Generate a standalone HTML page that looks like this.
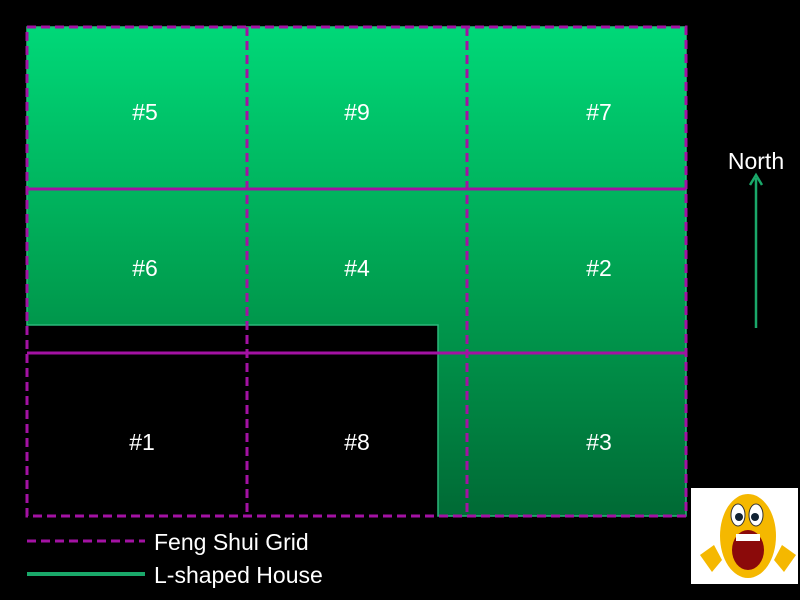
<!DOCTYPE html>
<html><head><meta charset="utf-8"><style>
html,body{margin:0;padding:0;background:#000;width:800px;height:600px;overflow:hidden}
text{font-family:"Liberation Sans",sans-serif;fill:#fff}
</style></head><body>
<svg width="800" height="600" viewBox="0 0 800 600" xmlns="http://www.w3.org/2000/svg">
<defs>
<linearGradient id="g" x1="0" y1="0" x2="0" y2="1" gradientUnits="userSpaceOnUse" x1v="0">
</linearGradient>
<linearGradient id="gr" gradientUnits="userSpaceOnUse" x1="0" y1="27" x2="0" y2="516">
<stop offset="0" stop-color="#00d878"/><stop offset="0.5" stop-color="#00a352"/><stop offset="1" stop-color="#006a35"/>
</linearGradient>
</defs>
<rect width="800" height="600" fill="#000"/>
<path d="M27 27 H686 V516 H438 V325 H27 Z" fill="url(#gr)" stroke="#2bb87a" stroke-width="1.5"/>
<g stroke="#a312a3" stroke-width="3" fill="none">
<rect x="27" y="27" width="659" height="489" stroke-dasharray="9,5"/>
<line x1="247" y1="27" x2="247" y2="516" stroke-dasharray="9,5"/>
<line x1="467" y1="27" x2="467" y2="516" stroke-dasharray="9,5"/>
<line x1="27" y1="189" x2="686" y2="189"/>
<line x1="27" y1="353" x2="686" y2="353"/>
</g>
<g font-size="23" text-anchor="middle">
<text x="145" y="120">#5</text><text x="357" y="120">#9</text><text x="599" y="120">#7</text>
<text x="145" y="276">#6</text><text x="357" y="276">#4</text><text x="599" y="276">#2</text>
<text x="142" y="450">#1</text><text x="357" y="450">#8</text><text x="599" y="450">#3</text>
</g>
<text x="756" y="169" font-size="23" text-anchor="middle">North</text>
<line x1="756" y1="328" x2="756" y2="178" stroke="#1aa86a" stroke-width="2.5"/>
<path d="M750 185 L756 175 L762 185" fill="none" stroke="#1aa86a" stroke-width="2.5"/>
<line x1="27" y1="541" x2="145" y2="541" stroke="#a312a3" stroke-width="3" stroke-dasharray="9,5"/>
<line x1="27" y1="574" x2="145" y2="574" stroke="#1aa86a" stroke-width="4"/>
<text x="154" y="550" font-size="23">Feng Shui Grid</text>
<text x="154" y="583" font-size="23">L-shaped House</text>
<rect x="691" y="488" width="107" height="96" fill="#fff"/>
<ellipse cx="748" cy="536" rx="28" ry="42" fill="#f5b800"/>
<ellipse cx="738" cy="515" rx="7" ry="11" fill="#fff" stroke="#333"/>
<ellipse cx="756" cy="515" rx="7" ry="11" fill="#fff" stroke="#333"/>
<circle cx="739" cy="517" r="4" fill="#123"/><circle cx="755" cy="517" r="4" fill="#123"/>
<ellipse cx="748" cy="550" rx="16" ry="20" fill="#8b0a0a"/>
<rect x="736" y="534" width="24" height="7" fill="#fff"/>
<path d="M700 555 L714 545 L722 560 L712 572 Z" fill="#f5b800"/>
<path d="M796 555 L782 545 L774 560 L784 572 Z" fill="#f5b800"/>
</svg>
</body></html>
